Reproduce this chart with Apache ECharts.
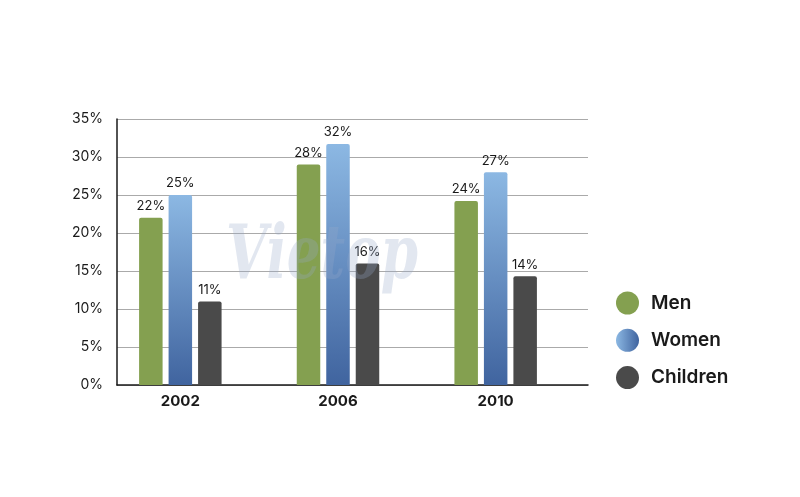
<!DOCTYPE html>
<html><head><meta charset="utf-8">
<script src="https://cdn.jsdelivr.net/npm/echarts@6/dist/echarts.min.js"></script>
<style>html,body{margin:0;padding:0;background:#fff}#c{width:800px;height:497px}</style>
</head><body><div id="c"></div>
<script>
var categories = ['2002', '2006', '2010'];
var menValues = [22, 29, 24.2];
var womenValues = [25, 31.7, 28];
var childrenValues = [11, 16, 14.3];
var menLabels = ['22%', '28%', '24%'];
var womenLabels = ['25%', '32%', '27%'];
var childrenLabels = ['11%', '16%', '14%'];
var yTicks = [0, 5, 10, 15, 20, 25, 30, 35];

var FONT = 'Inter, "Noto Sans", sans-serif';
var womenGrad = new echarts.graphic.LinearGradient(0, 0, 0, 1, [
  {offset: 0, color: '#8cb8e3'}, {offset: 1, color: '#40649f'}]);
var womenLegendGrad = new echarts.graphic.LinearGradient(0, 0, 1, 0, [
  {offset: 0, color: '#8cb8e3'}, {offset: 1, color: '#40649f'}]);

function mkSeries(name, vals, labels, color) {
  return {
    name: name, type: 'bar', xAxisIndex: 0, yAxisIndex: 0,
    data: vals, barWidth: 23.5, barGap: '25.5%',
    itemStyle: {color: color, borderRadius: [2, 2, 0, 0]},
    label: {show: true, position: 'top', distance: 5, fontFamily: FONT, fontSize: 13, color: '#1a1a1a',
      formatter: function (p) { return labels[p.dataIndex]; }}
  };
}

var chart = echarts.init(document.getElementById('c'), null, {renderer: 'canvas'});
chart.setOption({
  animation: false,
  backgroundColor: '#ffffff',
  graphic: [{
    type: 'text', left: 226, top: 222, z: 100, scaleX: 0.72,
    style: {text: 'Vietop', font: 'italic bold 74px "DejaVu Serif", serif', fill: 'rgba(150,170,200,0.28)'}
  }],
  grid: [
    {left: 101.5, right: 225.5, top: 119, bottom: 112},
    {left: 117, right: 212, top: 119, bottom: 112}
  ],
  xAxis: [
    {type: 'category', gridIndex: 0, data: categories,
      axisLine: {show: false}, axisTick: {show: false},
      axisLabel: {margin: 9, fontFamily: FONT, fontSize: 15, fontWeight: 'bold', color: '#1a1a1a'}},
    {type: 'category', gridIndex: 1, data: categories,
      axisLine: {show: true, lineStyle: {color: '#1a1a1a', width: 1.5}}, axisTick: {show: false},
      axisLabel: {show: false}}
  ],
  yAxis: [
    {type: 'value', gridIndex: 0, min: 0, max: 35, interval: 5,
      axisLine: {show: false}, axisLabel: {show: false}, splitLine: {show: false}, axisTick: {show: false}},
    {type: 'value', gridIndex: 1, min: 0, max: 35, interval: 5,
      axisLine: {show: true, lineStyle: {color: '#1a1a1a', width: 1.5}}, axisTick: {show: false},
      splitLine: {show: true, lineStyle: {color: '#aaaaaa', width: 1}},
      axisLabel: {margin: 14, fontFamily: FONT, fontSize: 14, color: '#1a1a1a',
        formatter: function (v) { return yTicks.indexOf(v) >= 0 ? v + '%' : ''; }}}
  ],
  legend: {
    orient: 'vertical', left: 611, top: 286.5, itemWidth: 23, itemHeight: 23, itemGap: 14.3,
    icon: 'circle',
    textStyle: {fontFamily: FONT, fontSize: 19, fontWeight: 600, color: '#1a1a1a', padding: [0, 0, 0, 7]},
    data: [
      {name: 'Men', itemStyle: {color: '#84a050'}},
      {name: 'Women', itemStyle: {color: womenLegendGrad}},
      {name: 'Children', itemStyle: {color: '#4a4a4a'}}
    ]
  },
  series: [
    mkSeries('Men', menValues, menLabels, '#84a050'),
    mkSeries('Women', womenValues, womenLabels, womenGrad),
    mkSeries('Children', childrenValues, childrenLabels, '#4a4a4a')
  ]
});
</script></body></html>
